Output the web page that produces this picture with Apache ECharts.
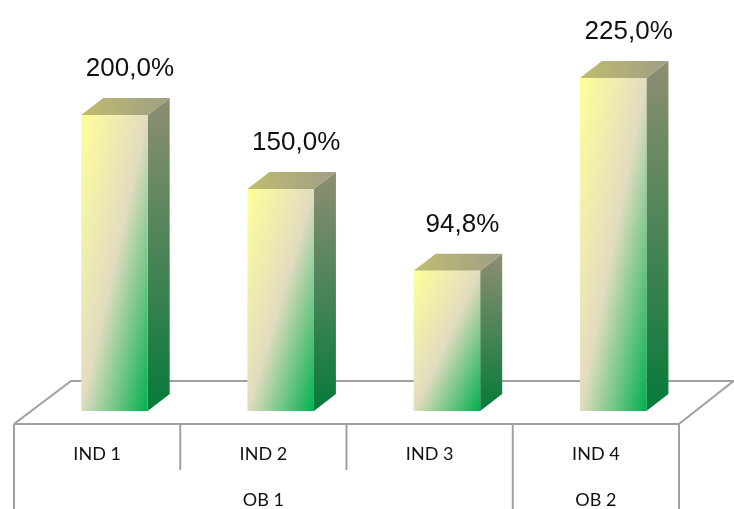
<!DOCTYPE html>
<html><head><meta charset="utf-8">
<style>html,body{margin:0;padding:0;background:#fff}#c{width:734px;height:509px}</style>
<script src="https://cdn.jsdelivr.net/npm/echarts@6/dist/echarts.min.js"></script>
</head><body><div id="c"></div>
<script>
const categories = ['IND 1', 'IND 2', 'IND 3', 'IND 4'];
const groupLabels = ['', 'OB 1', '', 'OB 2'];
const values = [200, 150, 94.8, 225];

const G = {left: 14, width: 665, top: 41, height: 370};
const tableTop = 424, tableMid = 470, pageEnd = 509;
const floorBack = 381, floorDX = 57, floorDX2 = 54.5;
const depthX = 22, depthY = 17, barRatio = 0.4, barShift = 17.3;
const lineColor = '#a0a0a0';
const lbl = {fontFamily: 'Lato, Carlito, sans-serif', fontSize: 18, color: '#111'};

function fmt(v) { return v.toFixed(1).replace('.', ',') + '%'; }

function renderBar(params, api) {
  const v = api.value(1);
  const c = api.coord([api.value(0), v]);
  const base = api.coord([api.value(0), 0]);
  const w = api.size([1, 0])[0] * barRatio;
  const x0 = c[0] + barShift - w / 2, x1 = x0 + w, yT = c[1], yB = base[1], h = yB - yT;
  // isolines along the bar's anti-diagonal
  const k = 2 * w * h / (h * h + w * w);
  const front = new echarts.graphic.LinearGradient(x0, yT, x0 + h * k, yT + w * k, [
    {offset: 0, color: '#ffff99'},
    {offset: 0.5, color: '#e2dcc0'},
    {offset: 1, color: '#00b050'}
  ], true);
  const side = new echarts.graphic.LinearGradient(0, 0, 0, 1, [
    {offset: 0, color: '#8e8e72'},
    {offset: 1, color: '#067a3a'}
  ]);
  const top = new echarts.graphic.LinearGradient(0, 0, 1, 0, [
    {offset: 0, color: '#bfbd70'},
    {offset: 1, color: '#a09e84'}
  ]);
  return {type: 'group', children: [
    {type: 'polygon', shape: {points: [[x1, yT], [x1 + depthX, yT - depthY], [x1 + depthX, yB - depthY], [x1, yB]]}, style: {fill: side}},
    {type: 'polygon', shape: {points: [[x0, yT], [x0 + depthX, yT - depthY], [x1 + depthX, yT - depthY], [x1, yT]]}, style: {fill: top}},
    {type: 'rect', shape: {x: x0, y: yT, width: w, height: h}, style: {fill: front}},
    {type: 'text', style: {
      x: (x0 + x1) / 2 + 15.5, y: yT - depthY - 29, text: fmt(v), align: 'center', verticalAlign: 'middle',
      fontFamily: '"Liberation Sans Narrow", "Liberation Sans", sans-serif', fontSize: 26, fill: '#111'
    }}
  ]};
}

const gR = G.left + G.width, band = G.width / categories.length;
const seg = (x1, y1, x2, y2) => ({type: 'line', z: 0, shape: {x1, y1, x2, y2}, style: {stroke: lineColor, lineWidth: 2}});
const graphics = [
  {type: 'polyline', z: 0, shape: {points: [[G.left, tableTop], [G.left + floorDX, floorBack], [gR + floorDX2, floorBack], [gR, tableTop]]}, style: {stroke: lineColor, lineWidth: 2, fill: 'none'}},
  seg(G.left, tableTop, gR, tableTop),
  seg(G.left, tableTop, G.left, pageEnd),
  seg(G.left + band, tableTop, G.left + band, tableMid),
  seg(G.left + 2 * band, tableTop, G.left + 2 * band, tableMid),
  seg(G.left + 3 * band, tableTop, G.left + 3 * band, pageEnd),
  seg(gR, tableTop, gR, pageEnd)
];

const chart = echarts.init(document.getElementById('c'), null, {renderer: 'canvas'});
chart.setOption({
  animation: false,
  backgroundColor: '#fff',
  grid: {left: G.left, top: G.top, width: G.width, height: G.height},
  graphic: graphics,
  xAxis: [
    {type: 'category', data: categories, axisLine: {show: false}, axisTick: {show: false}, axisLabel: {...lbl, margin: 34, interval: 0}},
    {type: 'category', data: groupLabels, position: 'bottom', axisLine: {show: false}, axisTick: {show: false}, axisLabel: {...lbl, margin: 80, interval: 0}}
  ],
  yAxis: {type: 'value', min: 0, max: 250, show: false, splitLine: {show: false}},
  series: [{
    type: 'custom', z: 5, clip: false, renderItem: renderBar,
    encode: {x: 0, y: 1},
    data: values.map((v, i) => [i, v])
  }]
});
</script></body></html>
